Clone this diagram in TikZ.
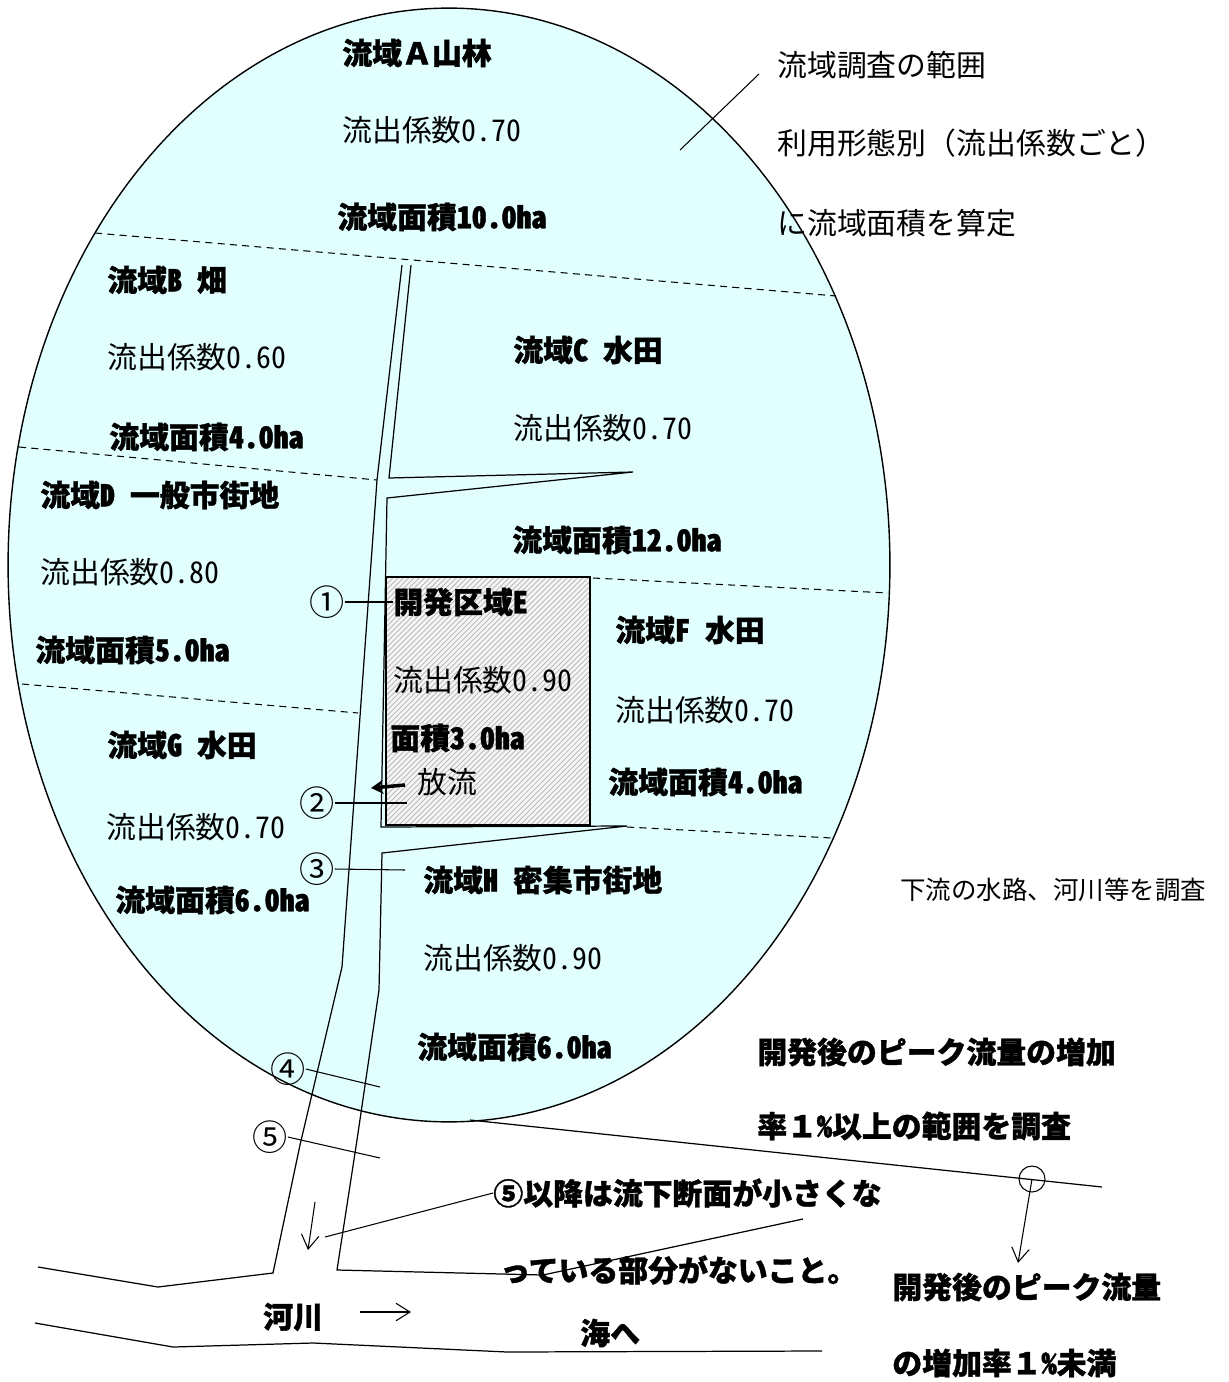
\documentclass[tikz,border=0pt]{standalone}
\usepackage{fontspec}
\setmainfont{Noto Sans CJK JP}[RawFeature=+hwid,BoldFeatures={FakeBold=1.2}]
\newfontfamily\fw{Noto Sans CJK JP}[BoldFeatures={FakeBold=1.2}]
\usetikzlibrary{arrows.meta,patterns}
\tikzset{>=stealth}
\definecolor{basin}{RGB}{226,255,255}
\tikzset{
  bl/.style={anchor=west,inner sep=0pt,font=\fontsize{17}{20}\selectfont\bfseries},
  pl/.style={anchor=west,inner sep=0pt,font=\fontsize{17}{20}\selectfont},
  sl/.style={anchor=west,inner sep=0pt,font=\fontsize{14.5}{17}\selectfont},
  num/.style={inner sep=0pt,font=\fontsize{20}{22}\selectfont},
  zone/.style={line width=0.6pt,dash pattern=on 4pt off 3pt},
  bank/.style={line width=0.7pt},
  thin/.style={line width=0.6pt,-{Straight Barb[length=8pt,width=10pt]}},
}

\begin{document}
\begin{tikzpicture}[x=0.02cm,y=-0.02cm]
  \useasboundingbox (0,0) rectangle (1228,1382);

  % survey area
  \draw[line width=0.8pt,fill=basin] (449,565) ellipse [x radius=8.82cm,y radius=11.14cm];

  % zone borders
  \draw[zone] (95,233)--(836,296);
  \draw[zone] (19,447)--(377,480);
  \draw[zone] (22,684)--(358,713);
  \draw[zone] (593,578)--(888,593);
  \draw[zone] (627,827)--(832,838);

  % development area E
  \draw[line width=0.7pt,fill=gray!8] (386,577) rectangle (590,825);
  \fill[pattern=north east lines,pattern color=gray!60] (386,577) rectangle (590,825);
  \draw[line width=0.7pt] (386,577) rectangle (590,825);

  % waterway and river
  \draw[bank] (38,1267)--(158,1287)--(273,1273)--(300,1145)--(342,967)--(377,480)--(402,265);
  \draw[bank] (411,265)--(389,478)--(633,472)--(387,498)--(381,827)--(627,826)--(382,853)
    --(379,990)--(357,1140)--(337,1270)--(543,1275)--(803,1219);
  \draw[bank] (35,1323)--(173,1347)--(313,1343)--(507,1352)--(822,1351);

  % downstream line
  \draw[bank] (470,1120)--(1102,1187);
  \node[draw,circle,line width=0.6pt,minimum size=0.52cm,inner sep=0pt] (ring) at (1032,1179) {};

  % zone A
  \node[bl] (aN) at (342,53) {流域{\fw Ａ}山林};
  \node[pl] (aC) at (342,130) {流出係数0.70};
  \node[bl] (aS) at (337,217) {流域面積10.0ha};

  % notes, upper right
  \node[pl] (n1) at (777,65) {流域調査の範囲};
  \node[pl] (n2) at (777,143) {利用形態別{\fw （}流出係数ごと{\fw ）}};
  \node[pl] (n3) at (777,223) {に流域面積を算定};
  \coordinate (n0a) at (680,150);
  \coordinate (n0b) at (759,74);
  \draw[line width=0.6pt] (n0a)--(n0b);

  % zone B
  \node[bl] (bN) at (107,280) {流域B 畑};
  \node[pl] (bC) at (107,357) {流出係数0.60};
  \node[bl] (bS) at (109,437) {流域面積4.0ha};

  % zone C
  \node[bl] (cN) at (513,350) {流域C 水田};
  \node[pl] (cC) at (513,428) {流出係数0.70};
  \node[bl] (cS) at (512,540) {流域面積12.0ha};

  % zone D
  \node[bl] (dN) at (40,495) {流域D 一般市街地};
  \node[pl] (dC) at (40,572) {流出係数0.80};
  \node[bl] (dS) at (35,650) {流域面積5.0ha};

  % area E
  \node[bl] (eN) at (393,602) {開発区域E};
  \node[pl] (eC) at (393,680) {流出係数0.90};
  \node[bl] (eS) at (390,738) {面積3.0ha};
  \node[pl] (eO) at (417,782) {放流};
  \coordinate (eOa) at (405,785);
  \coordinate (eOb) at (371,788);
  \draw[line width=2pt,-{Stealth[length=7pt,width=8pt]}] (eOa)--(eOb);

  % zone F
  \node[bl] (fN) at (615,630) {流域F 水田};
  \node[pl] (fC) at (615,710) {流出係数0.70};
  \node[bl] (fS) at (608,782) {流域面積4.0ha};

  % zone G
  \node[bl] (gN) at (107,745) {流域G 水田};
  \node[pl] (gC) at (106,827) {流出係数0.70};
  \node[bl] (gS) at (115,900) {流域面積6.0ha};

  % zone H
  \node[bl] (hN) at (423,880) {流域H 密集市街地};
  \node[pl] (hC) at (423,958) {流出係数0.90};
  \node[bl] (hS) at (417,1047) {流域面積6.0ha};

  % check points
  \node[num] (p1) at (327,602) {①};
  \node[num] (p2) at (317,803) {②};
  \node[num] (p3) at (317,869) {③};
  \node[num] (p4) at (288,1069) {④};
  \node[num] (p5) at (270,1137) {⑤};
  \coordinate (q2) at (407,803);
  \coordinate (q3) at (405,870);
  \coordinate (q4) at (380,1087);
  \coordinate (q5) at (380,1158);
  \draw[line width=0.6pt] (p1.east)--(eN.west);
  \draw[line width=0.6pt] (p2.east)--(q2);
  \draw[line width=0.6pt] (p3.east)--(q3);
  \draw[line width=0.6pt] (p4.east)--(q4);
  \draw[line width=0.6pt] (p5.east)--(q5);

  % right notes
  \node[sl] (r0) at (900,890) {下流の水路、河川等を調査};
  \node[bl] (r1) at (757,1052) {開発後のピーク流量の増加};
  \node[bl] (r2) at (757,1126) {率{\fw １}\%以上の範囲を調査};
  \node[bl] (r3) at (892,1287) {開発後のピーク流量};
  \node[bl] (r4) at (892,1363) {の増加率{\fw １}\%未満};
  \coordinate (r3a) at (1018,1263);
  \draw[thin] (ring.center)--(r3a);

  % bottom notes
  \node[bl] (m1) at (493,1193) {⑤以降は流下断面が小さくな};
  \node[bl] (m2) at (500,1270) {っている部分がないこと。};
  \coordinate (m0) at (325,1237);
  \draw[line width=0.6pt] (m1.west)--(m0);
  \coordinate (d1) at (315,1202);
  \coordinate (d2) at (308,1250);
  \draw[thin] (d1)--(d2);

  % river
  \node[bl] (rv) at (263,1317) {河川};
  \node[bl] (sea) at (580,1333) {海へ};
  \coordinate (rva) at (360,1312);
  \coordinate (rvb) at (411,1312);
  \draw[thin] (rva)--(rvb);
\end{tikzpicture}
\end{document}
